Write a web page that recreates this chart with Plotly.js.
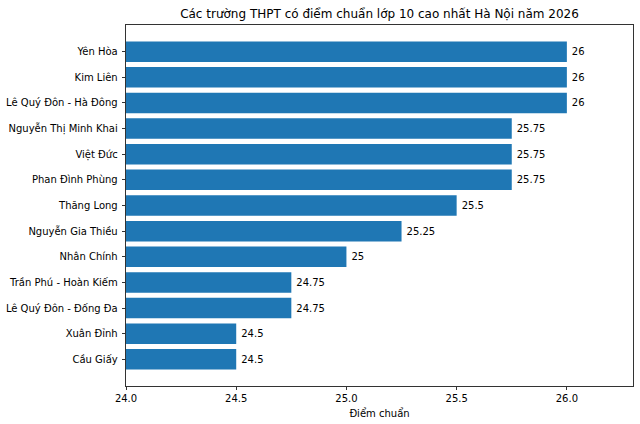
<!DOCTYPE html>
<html><head><meta charset="utf-8">
<script src="https://cdn.plot.ly/plotly-3.0.1.min.js"></script>
<style>html,body{margin:0;padding:0;background:#fff}#c{width:640px;height:424px}</style>
</head><body><div id="c"></div>
<script>
const schools = ["Yên Hòa","Kim Liên","Lê Quý Đôn - Hà Đông","Nguyễn Thị Minh Khai","Việt Đức","Phan Đình Phùng","Thăng Long","Nguyễn Gia Thiều","Nhân Chính","Trần Phú - Hoàn Kiếm","Lê Quý Đôn - Đống Đa","Xuân Đỉnh","Cầu Giấy"];
const scores = [26,26,26,25.75,25.75,25.75,25.5,25.25,25,24.75,24.75,24.5,24.5];
const labels = ["26","26","26","25.75","25.75","25.75","25.5","25.25","25","24.75","24.75","24.5","24.5"];
const xTicks = [24.0,24.5,25.0,25.5,26.0];
const xTickText = ["24.0","24.5","25.0","25.5","26.0"];
const base = 24;

const font = {family:"DejaVu Sans, sans-serif", size:10, color:"#000"};
Plotly.newPlot("c", [{
  type:"bar", orientation:"h",
  y: schools,
  x: scores.map(v => v - base),
  base: base,
  width: 0.8,
  marker:{color:"#1f77b4"},
  text: labels.map(s => "\u2009" + s), textposition:"outside", cliponaxis:false,
  textfont: font,
  hoverinfo:"skip"
}], {
  width:640, height:424,
  margin:{l:126, r:7, t:24.5, b:38, pad:0},
  paper_bgcolor:"#fff", plot_bgcolor:"#fff",
  font: font,
  showlegend:false,
  title:{text:"Các trường THPT có điểm chuẩn lớp 10 cao nhất Hà Nội năm 2026", font:{family:"DejaVu Sans, sans-serif", size:12, color:"#000"}, x:0.5, xref:"paper", y:1-14/424, yanchor:"middle"},
  xaxis:{range:[24, 26.3], tickvals:xTicks, ticktext:xTickText, ticks:"outside", ticklen:3.5, tickcolor:"#000", tickwidth:0.8,
    showgrid:false, zeroline:false, showline:true, linecolor:"#000", linewidth:0.8, mirror:true,
    title:{text:"Điểm chuẩn", font:{family:"DejaVu Sans, sans-serif", size:10, color:"#000"}, standoff:6}},
  yaxis:{type:"category", range:[12+1.04, -1.04], ticks:"outside", ticklen:3.5, tickcolor:"#000", tickwidth:0.8,
    showgrid:false, zeroline:false, showline:true, linecolor:"#000", linewidth:0.8, mirror:true, ticklabelstandoff:2}
}, {staticPlot:true});
</script></body></html>
